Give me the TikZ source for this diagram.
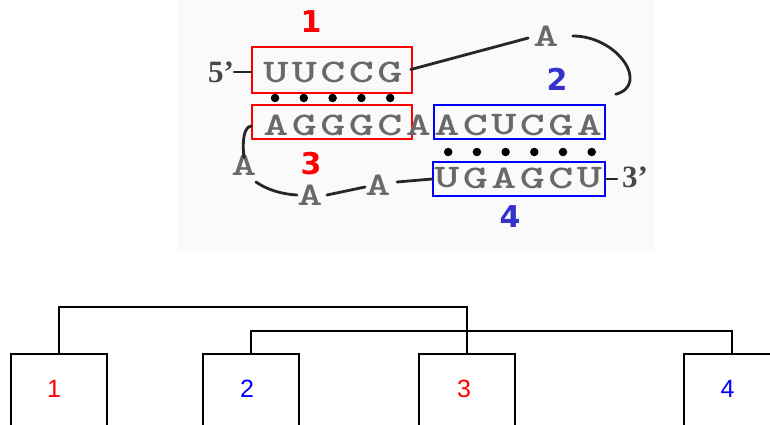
\documentclass[tikz,border=0pt]{standalone}
\usepackage{fontspec}
\usepackage{graphicx}
\newfontfamily\primefont{Liberation Serif}
\newfontfamily\labfont{DejaVu Sans}
\newfontfamily\arialfont{Liberation Sans}
\newcommand\wideletter[1]{\scalebox{1.45}[1]{#1}}
\definecolor{topblue}{RGB}{51,51,204}
\definecolor{seqgray}{RGB}{105,105,105}
\definecolor{pureblue}{RGB}{0,0,255}
\begin{document}
\begin{tikzpicture}[x=1pt,y=-1pt,
  seq/.style={font=\ttfamily\bfseries\fontsize{33}{33}\selectfont, text=seqgray, inner sep=0pt},
  prime/.style={font=\primefont\bfseries\fontsize{31}{31}\selectfont, text=black!72, inner sep=0pt},
  toplab/.style={font=\labfont\bfseries\fontsize{30}{30}\selectfont, inner sep=0pt},
  botlab/.style={font=\arialfont\fontsize{25}{25}\selectfont, inner sep=0pt},
  stembox/.style={draw, line width=1.5pt, inner sep=0pt},
  pairdot/.style={circle, fill=black, inner sep=0pt, minimum size=8.5pt},
  conn/.style={line width=2.8pt, draw=black!85, line cap=round},
  leafbox/.style={draw, line width=1.8pt, inner sep=0pt, minimum width=96pt, minimum height=100pt, anchor=north},
  tree/.style={line width=1.8pt}]
\clip (0,0) rectangle (770,425);
\fill[black!2] (177,0) rectangle (655,252);

% stem boxes
\node[stembox, draw=red, minimum width=160pt, minimum height=46pt] (b1) at (332,70) {};
\node[stembox, draw=red, minimum width=160pt, minimum height=34pt] (b3) at (332,122) {};
\node[stembox, draw=blue, minimum width=171pt, minimum height=34pt] (b2) at (519.5,122) {};
\node[stembox, draw=blue, minimum width=172pt, minimum height=34pt] (b4) at (519,179) {};

% sequence letters
\foreach \ch [count=\i from 0] in {U,U,C,C,G}
  \node[seq] (ra-\i) at (276+28.5*\i,72.5) {\wideletter{\ch}};
\foreach \ch [count=\i from 0] in {A,G,G,G,C,A,A,C,U,C,G,A}
  \node[seq] (rb-\i) at (276+28.5*\i,125) {\wideletter{\ch}};
\foreach \ch [count=\i from 6] in {U,G,A,G,C,U}
  \node[seq] (rc-\i) at (276+28.5*\i,178) {\wideletter{\ch}};

% base pair dots
\foreach \i in {0,...,4}
  \node[pairdot] (da-\i) at (275+28.8*\i,98) {};
\foreach \i in {6,...,11}
  \node[pairdot] (db-\i) at (276+28.7*\i,152) {};

% loop letters and ends
\node[seq] (at) at (546,36) {\wideletter{A}};
\node[seq] (a1) at (244,165) {\wideletter{A}};
\node[seq] (a2) at (310,195) {\wideletter{A}};
\node[seq] (a3) at (378,185) {\wideletter{A}};
\node[prime] (p5) at (221,72) {5’};
\node[prime] (p3) at (635,177) {3’};

% stem labels
\node[toplab, text=red] (l1) at (311,22) {1};
\node[toplab, text=red] (l3) at (311,164) {3};
\node[toplab, text=topblue] (l2) at (557,79) {2};
\node[toplab, text=topblue] (l4) at (510,217) {4};

% backbone connectors
\draw[conn] (p5.east) -- (p5.east -| b1.west);
\draw[conn] ([xshift=8pt,yshift=3pt]ra-4.east) -- ([xshift=-5pt,yshift=-2pt]at.west);
\draw[conn] ([xshift=14pt]at.east) .. controls (618,36) and (650,85) .. ([xshift=10pt,yshift=10pt]b2.north east);
\draw[conn] ([yshift=-4pt]b3.west) .. controls (244,127) and (242,140) .. ([yshift=-3pt]a1.north);
\draw[conn] ([xshift=12pt,yshift=-17pt]a1.center) .. controls (266,189) and (280,194) .. ([xshift=-13pt]a2.center);
\draw[conn] ([xshift=17pt]a2.center) -- ([xshift=-13pt,yshift=-2pt]a3.center);
\draw[conn] ([xshift=19pt,yshift=3pt]a3.center) -- (b4.west);
\draw[conn] (b4.east) -- ([xshift=-5pt]p3.west |- b4.east);

% tree below
\node[leafbox] (B1) at (59,353) {};
\node[leafbox] (B2) at (250.8,353) {};
\node[leafbox] (B3) at (466.8,353) {};
\node[leafbox] (B4) at (732.2,353) {};
\node[botlab, text=red] (n1) at (54,389) {1};
\node[botlab, text=pureblue] (n2) at (247,389) {2};
\node[botlab, text=red] (n3) at (464,389) {3};
\node[botlab, text=pureblue] (n4) at (727.5,389) {4};
\draw[tree] (B1.north) -- ([yshift=46pt]B1.north) -| (B3.north);
\draw[tree] (B2.north) -- ([yshift=22pt]B2.north) -| (B4.north);
\end{tikzpicture}
\end{document}
